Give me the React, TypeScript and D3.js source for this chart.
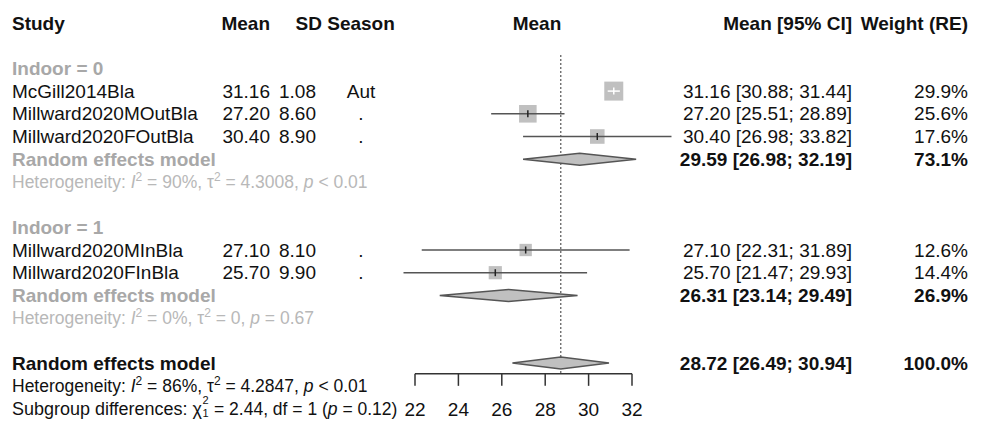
import React from 'react';
import * as d3 from 'd3';

const studies = ['McGill2014Bla', 'Millward2020MOutBla', 'Millward2020FOutBla', 'Millward2020MInBla', 'Millward2020FInBla'];
const group = [0, 0, 0, 1, 1];
const means = [31.16, 27.2, 30.4, 27.1, 25.7];
const sds = [1.08, 8.6, 8.9, 8.1, 9.9];
const seasons = ['Aut', '.', '.', '.', '.'];
const lower = [30.88, 25.51, 26.98, 22.31, 21.47];
const upper = [31.44, 28.89, 33.82, 31.89, 29.93];
const weights = [29.9, 25.6, 17.6, 12.6, 14.4];

const groupLabels = ['Indoor = 0', 'Indoor = 1'];
const groupMeans = [29.59, 26.31];
const groupLower = [26.98, 23.14];
const groupUpper = [32.19, 29.49];
const groupWeights = [73.1, 26.9];
const groupHet = [
  { i2: '90%', tau2: '4.3008', p: '< 0.01' },
  { i2: '0%', tau2: '0', p: '= 0.67' },
];

const overall = { mean: 28.72, lower: 26.49, upper: 30.94, weight: 100.0 };
const overallHet = { i2: '86%', tau2: '4.2847', p: '< 0.01' };
const subgroupTest = { chi2: '2.44', df: '1', p: '0.12' };

const ticks = [22, 24, 26, 28, 30, 32];

const FONT = '"Liberation Sans", Arial, Helvetica, sans-serif';
const GREY_LABEL = '#a8a8a8';
const GREY_HET = '#b8b8b8';
const LINE = '#555555';
const BOX = '#c0c0c0';

const App = () => {
  const width = 982;
  const height = 421;
  const y0 = 23;
  const rowH = 22.7;
  const rowY = (i: number) => y0 + i * rowH;

  const x = d3.scaleLinear().domain([22, 32]).range([415, 632]);
  const boxSize = d3.scaleSqrt().domain([0, d3.max(weights) as number]).range([0, 19]);

  const col = { study: 12, mean: 270, sd: 316, sdHead: 322, season: 361, ci: 852, weight: 968, plotHead: 537 };
  const fs = 19;
  const hetFs = 17.5;
  const supFs = 12;
  const fmt2 = d3.format('.2f');
  const fmt1 = d3.format('.1f');

  // layout rows
  const groupStart = [2, 9];
  const studyRows: number[] = [];
  const counts = [0, 0];
  studies.forEach((_, i) => {
    const g = group[i];
    studyRows.push(groupStart[g] + 1 + counts[g]);
    counts[g] += 1;
  });
  const groupPoolRow = groupStart.map((s, g) => s + 1 + counts[g]);
  const overallRow = 15;
  const axisY = (rowY(15) + rowY(16)) / 2 - 1;

  const diamond = (lo: number, mid: number, hi: number, cy: number, h = 6) =>
    `M${x(lo)},${cy} L${x(mid)},${cy - h} L${x(hi)},${cy} L${x(mid)},${cy + h} Z`;

  const hetText = (h: { i2: string; tau2: string; p: string }, y: number, fill: string) => (
    <text x={col.study} y={y} dy="0.35em" fontSize={hetFs} fill={fill}>
      Heterogeneity: <tspan fontStyle="italic">I</tspan>
      <tspan dy={-7} fontSize={supFs}>2</tspan>
      <tspan dy={7}> = {h.i2}, τ</tspan>
      <tspan dy={-7} fontSize={supFs}>2</tspan>
      <tspan dy={7}> = {h.tau2}, </tspan>
      <tspan fontStyle="italic">p</tspan> {h.p}
    </text>
  );

  // subgroup test line: chi symbol with stacked super/subscript drawn as separate texts
  const sgY = rowY(17);
  const sgPrefix = 'Subgroup differences: χ';
  const sgPrefixW = 190;

  return (
    <svg width={width} height={height} style={{ position: 'absolute', left: 0, top: 0, background: '#fff' }} fontFamily={FONT}>
      {/* headers */}
      <g fontWeight="bold" fontSize={fs} fill="#111">
        <text x={col.study} y={rowY(0)} dy="0.35em">Study</text>
        <text x={col.mean} y={rowY(0)} dy="0.35em" textAnchor="end">Mean</text>
        <text x={col.sdHead} y={rowY(0)} dy="0.35em" textAnchor="end">SD</text>
        <text x={col.season} y={rowY(0)} dy="0.35em" textAnchor="middle">Season</text>
        <text x={col.plotHead} y={rowY(0)} dy="0.35em" textAnchor="middle">Mean</text>
        <text x={col.ci} y={rowY(0)} dy="0.35em" textAnchor="end">Mean [95% CI]</text>
        <text x={col.weight} y={rowY(0)} dy="0.35em" textAnchor="end">Weight (RE)</text>
      </g>

      {/* reference line */}
      <line x1={x(overall.mean)} x2={x(overall.mean)} y1={55} y2={axisY} stroke="#333" strokeWidth={1} strokeDasharray="2,2" />

      {/* subgroups */}
      {groupLabels.map((lab, g) => {
        const pr = rowY(groupPoolRow[g]);
        return (
          <g key={lab}>
            <text x={col.study} y={rowY(groupStart[g])} dy="0.35em" fontSize={fs} fontWeight="bold" fill={GREY_LABEL}>{lab}</text>
            <text x={col.study} y={pr} dy="0.35em" fontSize={fs} fontWeight="bold" fill={GREY_LABEL}>Random effects model</text>
            <path d={diamond(groupLower[g], groupMeans[g], groupUpper[g], pr)} fill={BOX} stroke={LINE} strokeWidth={1.5} />
            <text x={col.ci} y={pr} dy="0.35em" fontSize={fs} fontWeight="bold" textAnchor="end" fill="#111">
              {`${fmt2(groupMeans[g])} [${fmt2(groupLower[g])}; ${fmt2(groupUpper[g])}]`}
            </text>
            <text x={col.weight} y={pr} dy="0.35em" fontSize={fs} fontWeight="bold" textAnchor="end" fill="#111">{fmt1(groupWeights[g])}%</text>
            {hetText(groupHet[g], rowY(groupPoolRow[g] + 1), GREY_HET)}
          </g>
        );
      })}

      {/* studies */}
      {studies.map((s, i) => {
        const y = rowY(studyRows[i]);
        const bs = boxSize(weights[i]);
        const cx = x(means[i]);
        const inside = x(lower[i]) >= cx - bs / 2 && x(upper[i]) <= cx + bs / 2;
        const ciColor = inside ? '#ffffff' : LINE;
        return (
          <g key={s} fontSize={fs} fill="#111">
            <text x={col.study} y={y} dy="0.35em">{s}</text>
            <text x={col.mean} y={y} dy="0.35em" textAnchor="end">{fmt2(means[i])}</text>
            <text x={col.sd} y={y} dy="0.35em" textAnchor="end">{fmt2(sds[i])}</text>
            <text x={col.season} y={y} dy="0.35em" textAnchor="middle">{seasons[i]}</text>
            <rect x={cx - bs / 2} y={y - bs / 2} width={bs} height={bs} fill={BOX} />
            <line x1={x(lower[i])} x2={x(upper[i])} y1={y} y2={y} stroke={ciColor} strokeWidth={1.5} />
            <line x1={cx} x2={cx} y1={y - 3.5} y2={y + 3.5} stroke={inside ? '#ffffff' : '#222'} strokeWidth={1.5} />
            <text x={col.ci} y={y} dy="0.35em" textAnchor="end">{`${fmt2(means[i])} [${fmt2(lower[i])}; ${fmt2(upper[i])}]`}</text>
            <text x={col.weight} y={y} dy="0.35em" textAnchor="end">{fmt1(weights[i])}%</text>
          </g>
        );
      })}

      {/* overall */}
      <g fill="#111">
        <text x={col.study} y={rowY(overallRow)} dy="0.35em" fontSize={fs} fontWeight="bold">Random effects model</text>
        <path d={diamond(overall.lower, overall.mean, overall.upper, rowY(overallRow) - 0.5)} fill={BOX} stroke={LINE} strokeWidth={1.5} />
        <text x={col.ci} y={rowY(overallRow)} dy="0.35em" fontSize={fs} fontWeight="bold" textAnchor="end">
          {`${fmt2(overall.mean)} [${fmt2(overall.lower)}; ${fmt2(overall.upper)}]`}
        </text>
        <text x={col.weight} y={rowY(overallRow)} dy="0.35em" fontSize={fs} fontWeight="bold" textAnchor="end">{fmt1(overall.weight)}%</text>
        {hetText(overallHet, rowY(16), '#111')}
        <text x={col.study} y={sgY} dy="0.35em" fontSize={hetFs} textLength={sgPrefixW} lengthAdjust="spacingAndGlyphs">{sgPrefix}</text>
        <text x={col.study + sgPrefixW + 0.5} y={sgY - 5} fontSize={supFs - 1}>2</text>
        <text x={col.study + sgPrefixW + 0.5} y={sgY + 8} fontSize={supFs - 1}>{subgroupTest.df}</text>
        <text x={col.study + sgPrefixW + 12} y={sgY} dy="0.35em" fontSize={hetFs}>
          {`= ${subgroupTest.chi2}, df = ${subgroupTest.df} (`}
          <tspan fontStyle="italic">p</tspan> = {subgroupTest.p})
        </text>
      </g>

      {/* axis */}
      <g stroke="#333" strokeWidth={1.5} fill="none">
        <line x1={x(22)} x2={x(32)} y1={axisY} y2={axisY} />
        {ticks.map(t => (
          <line key={t} x1={x(t)} x2={x(t)} y1={axisY} y2={axisY + 12} />
        ))}
      </g>
      {ticks.map(t => (
        <text key={t} x={x(t)} y={rowY(17)} dy="0.35em" fontSize={fs} textAnchor="middle" fill="#111">{t}</text>
      ))}
    </svg>
  );
};

export default App;
